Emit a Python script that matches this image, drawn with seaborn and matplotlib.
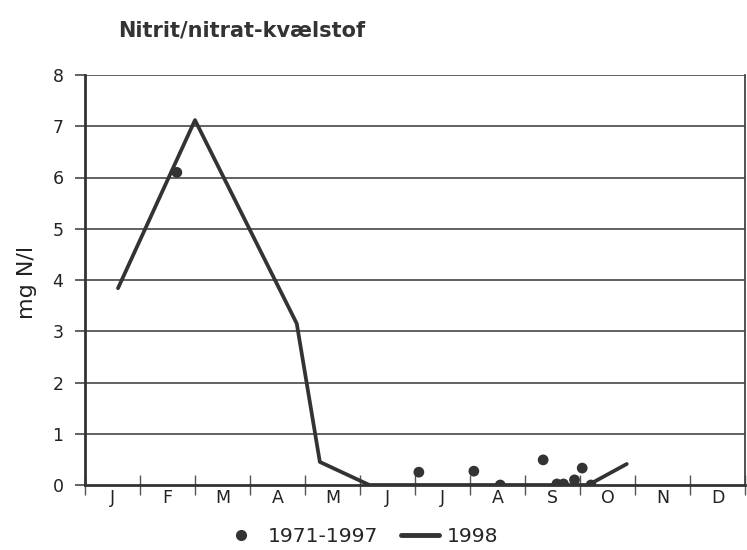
import matplotlib
matplotlib.use("Agg")
import matplotlib.pyplot as plt
import seaborn as sns
import pandas as pd
from matplotlib.lines import Line2D

sns.set_style("white")
plt.rcParams['font.family'] = ['DejaVu Sans']

months = ["J", "F", "M", "A", "M", "J", "J", "A", "S", "O", "N", "D"]
yticks = [0, 1, 2, 3, 4, 5, 6, 7, 8]

# 1998 series (x in months since 1 Jan)
line_x = [0.6, 2.0, 3.85, 4.27, 5.17, 9.15, 9.85]
line_y = [3.84, 7.12, 3.15, 0.45, 0.0, 0.0, 0.41]

# 1971-1997 observations
dot_x = [1.67, 6.07, 7.07, 7.55, 8.33, 8.58, 8.70, 8.90, 9.04, 9.20]
dot_y = [6.10, 0.25, 0.27, 0.0, 0.49, 0.02, 0.02, 0.10, 0.33, 0.0]

df_line = pd.DataFrame({"x": line_x, "y": line_y})
df_dots = pd.DataFrame({"x": dot_x, "y": dot_y})

fig = plt.figure(figsize=(7.47, 5.5), dpi=100)
ax = fig.add_axes([85/747, 65/550, (745-85)/747, (485-75)/550])

for v in yticks[1:]:
    ax.axhline(v, color="#555555", lw=1.3, zorder=1)

sns.lineplot(data=df_line, x="x", y="y", ax=ax, color="#333333", lw=2.7,
             sort=False, zorder=3)
sns.scatterplot(data=df_dots, x="x", y="y", ax=ax, color="#333333", s=60,
                edgecolor="none", zorder=4)

ax.set_xlim(0, 12)
ax.set_ylim(0, 8)
ax.set_yticks(yticks)
ax.set_yticklabels([str(v) for v in yticks], fontsize=12.5, color="#222222")
ax.set_xticks(range(13))
ax.set_xticklabels([])
ax.set_xticks([i + 0.5 for i in range(12)], minor=True)
ax.set_xticklabels(months, minor=True, fontsize=12.5, color="#222222")
ax.tick_params(axis="x", which="major", bottom=True, direction="inout", length=14,
               width=1.0, color="#555555")
ax.tick_params(axis="x", which="minor", bottom=True, length=0, pad=3)
ax.tick_params(axis="y", left=True, direction="out", length=7.5, width=1.3,
               color="#555555", pad=8)
ax.set_xlabel("")
ax.set_ylabel("")
fig.text(27/747, 1 - 282/550, "mg N/l", rotation=90, fontsize=16, color="#222222",
         ha="center", va="center")

for s in ["left", "bottom"]:
    ax.spines[s].set_color("#333333")
    ax.spines[s].set_linewidth(2.0)
ax.spines["right"].set_color("#444444")
ax.spines["right"].set_linewidth(1.3)
ax.spines["top"].set_visible(False)

fig.text(118/747, 1 - 36/550, "Nitrit/nitrat-kvælstof", fontsize=15, fontweight="bold",
         color="#333333", va="baseline", ha="left")

handles = [
    Line2D([], [], marker="o", color="#333333", ls="none", markersize=7),
    Line2D([], [], color="#333333", lw=3.5),
]
fig.legend(handles, ["1971-1997", "1998"], loc="center", bbox_to_anchor=(360/747, 1 - 537/550),
           ncol=2, frameon=False, handlelength=1.9, columnspacing=1.1,
           handletextpad=0.35, prop={"size": 14.7})

fig.savefig("out.png", dpi=100)
